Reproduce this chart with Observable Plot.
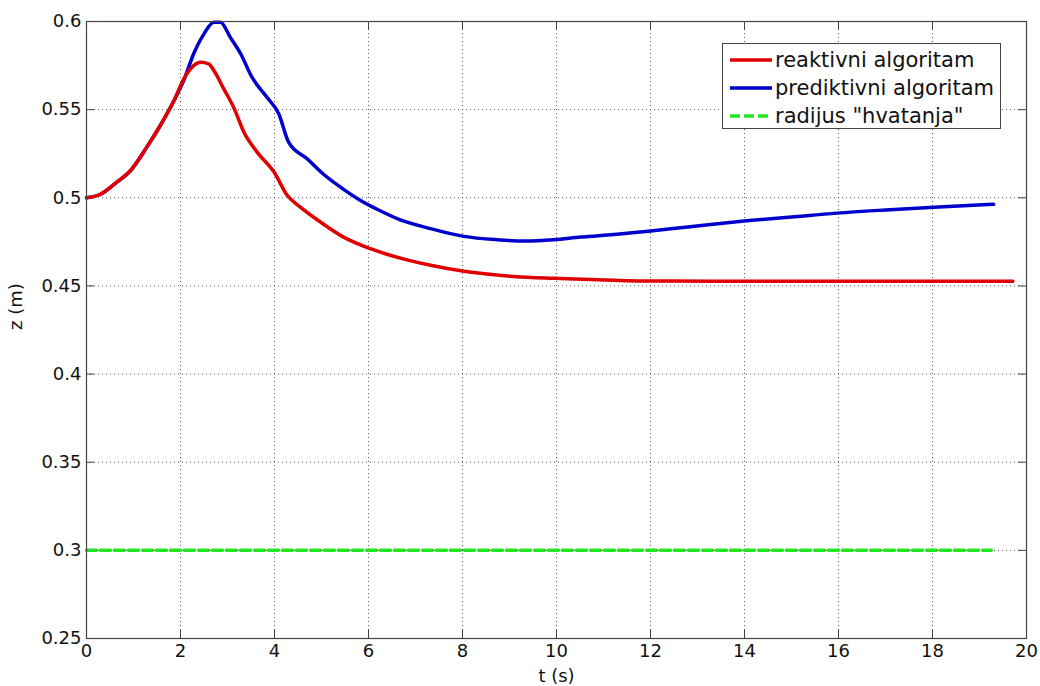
<!DOCTYPE html>
<html>
<head>
<meta charset="utf-8">
<script src="https://cdn.jsdelivr.net/npm/d3@7"></script>
<script src="https://cdn.jsdelivr.net/npm/@observablehq/plot@0.6"></script>
<style>
  html, body { margin: 0; padding: 0; background: #fff; }
  #wrap { position: relative; width: 1040px; height: 686px; font-family: "DejaVu Sans", Verdana, sans-serif; }
  #legend { position: absolute; left: 722px; top: 43px; width: 279px; height: 86px; border: 1px solid #444; background: #fff; box-sizing: border-box; }
  .row { position: absolute; left: 0; height: 28px; display: flex; align-items: center; font-size: 21px; color: #111; white-space: nowrap; }
  .row svg { margin-left: 7px; margin-right: 3px; }
</style>
</head>
<body>
<div id="wrap"></div>
<script>
// ---- data ----
const xTicks = [0, 2, 4, 6, 8, 10, 12, 14, 16, 18, 20];
const yTicks = [0.25, 0.3, 0.35, 0.4, 0.45, 0.5, 0.55, 0.6];

const seriesNames = ["reaktivni algoritam", "prediktivni algoritam", "radijus \"hvatanja\""];
const seriesColors = ["#e00000", "#0000cc", "#22e622"];

const reactiveT = [0, 0.3, 0.65, 0.94, 1.29, 1.57, 1.86, 2.07, 2.28, 2.43, 2.6, 2.71, 2.92, 3.13, 3.35, 3.63, 3.99, 4.27, 4.55, 4.98, 5.47, 6.04, 6.86, 7.32, 8.03, 9.09, 9.94, 11.22, 12.0, 13.28, 19.71];
const reactiveZ = [0.5, 0.502, 0.509, 0.5155, 0.529, 0.541, 0.555, 0.5675, 0.575, 0.5769, 0.576, 0.5722, 0.5618, 0.5514, 0.5372, 0.5259, 0.5146, 0.5014, 0.4947, 0.4862, 0.4777, 0.4711, 0.4645, 0.4617, 0.4583, 0.4554, 0.4543, 0.4532, 0.4528, 0.4527, 0.4527];

const predictiveT = [0, 0.3, 0.65, 0.94, 1.29, 1.57, 1.86, 2.07, 2.28, 2.5, 2.71, 2.85, 3.06, 3.28, 3.52, 3.84, 4.09, 4.3, 4.7, 5.05, 5.47, 5.83, 6.26, 6.61, 7.32, 8.03, 8.74, 9.3, 9.94, 10.51, 11.22, 12.0, 12.64, 13.28, 13.99, 15.0, 15.97, 17.0, 18.03, 19.3];
const predictiveZ = [0.5, 0.502, 0.509, 0.5155, 0.529, 0.541, 0.555, 0.5666, 0.5817, 0.593, 0.5996, 0.5996, 0.591, 0.5817, 0.5684, 0.557, 0.5477, 0.5316, 0.522, 0.5132, 0.5048, 0.4985, 0.4925, 0.4882, 0.4825, 0.4781, 0.4762, 0.4755, 0.4762, 0.4777, 0.4792, 0.4811, 0.483, 0.4849, 0.4868, 0.4891, 0.4913, 0.4931, 0.4947, 0.4963];

const radiusT = [0, 19.25];
const radiusZ = [0.3, 0.3];

const xLabel = "t (s)";
const yLabel = "z (m)";

// ---- build tables ----
const toRows = (ts, zs) => ts.map((t, i) => ({t, z: zs[i]}));
const reactive = toRows(reactiveT, reactiveZ);
const predictive = toRows(predictiveT, predictiveZ);
const radius = toRows(radiusT, radiusZ);

const marginTop = 21, marginBottom = 48, marginLeft = 86, marginRight = 14;
const height = 686;
const innerH = height - marginTop - marginBottom;
const innerW = 1040 - marginLeft - marginRight;
const tickLen = 8;
const gridStyle = {stroke: "#555", strokeWidth: 1, strokeDasharray: "1,3"};

const chart = Plot.plot({
  width: 1040,
  height,
  marginTop, marginBottom, marginLeft, marginRight,
  style: {fontFamily: "DejaVu Sans, Verdana, sans-serif", fontSize: "18px", color: "#111", background: "#fff", overflow: "visible"},
  x: {domain: [0, 20]},
  y: {domain: [0.25, 0.6]},
  marks: [
    Plot.ruleX(xTicks, {x: d => d, ...gridStyle}),
    Plot.ruleY(yTicks, {y: d => d, ...gridStyle}),
    // inward ticks on all four sides
    Plot.ruleX(xTicks, {x: d => d, insetTop: innerH - tickLen, stroke: "#444"}),
    Plot.ruleX(xTicks, {x: d => d, insetBottom: innerH - tickLen, stroke: "#444"}),
    Plot.ruleY(yTicks, {y: d => d, insetRight: innerW - tickLen, stroke: "#444"}),
    Plot.ruleY(yTicks, {y: d => d, insetLeft: innerW - tickLen, stroke: "#444"}),
    Plot.line(radius, {x: "t", y: "z", stroke: seriesColors[2], strokeWidth: 3.5, strokeDasharray: "10,4"}),
    Plot.line(predictive, {x: "t", y: "z", stroke: seriesColors[1], strokeWidth: 3.5, strokeLinejoin: "round", curve: "monotone-x"}),
    Plot.line(reactive, {x: "t", y: "z", stroke: seriesColors[0], strokeWidth: 3.5, strokeLinejoin: "round", curve: "monotone-x"}),
    Plot.frame({stroke: "#444", strokeWidth: 1.2}),
    Plot.axisX(xTicks, {tickSize: 0, tickPadding: 6, label: null, tickFormat: d => String(d)}),
    Plot.axisY(yTicks, {tickSize: 0, tickPadding: 5, label: null, tickFormat: d => String(+d.toFixed(2))}),
    Plot.text([xLabel], {frameAnchor: "bottom", dy: 43, text: d => d, fontSize: 18}),
    Plot.text([yLabel], {frameAnchor: "left", dx: -70, rotate: -90, text: d => d, fontSize: 18})
  ]
});

const wrap = document.getElementById("wrap");
wrap.appendChild(chart);

// legend
const legend = document.createElement("div");
legend.id = "legend";
seriesNames.forEach((name, i) => {
  const row = document.createElement("div");
  row.className = "row";
  row.style.top = (2 + i * 28) + "px";
  const dash = i === 2 ? 'stroke-dasharray="10,4"' : "";
  row.innerHTML = `<svg width="42" height="6"><line x1="0" x2="42" y1="3" y2="3" stroke="${seriesColors[i]}" stroke-width="3.5" ${dash}/></svg><span></span>`;
  row.querySelector("span").textContent = name;
  legend.appendChild(row);
});
wrap.appendChild(legend);
</script>
</body>
</html>
